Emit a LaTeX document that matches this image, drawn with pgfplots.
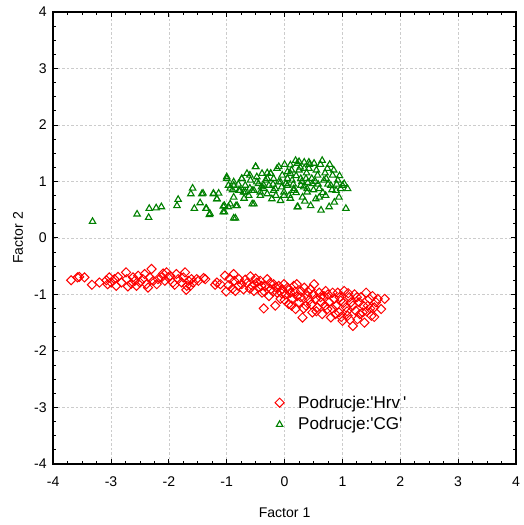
\documentclass[border=0pt]{standalone}
\usepackage{fontspec}
\setmainfont{Liberation Sans}
\usepackage{pgfplots}
\pgfplotsset{compat=1.18}
\definecolor{hrv}{RGB}{255,0,0}
\definecolor{cg}{RGB}{0,128,0}
\begin{document}
\begin{tikzpicture}
\begin{axis}[
  scale only axis,
  width=461pt, height=450pt,
  xmin=-4, xmax=4, ymin=-4, ymax=4,
  xtick={-4,-3,...,4}, ytick={-4,-3,...,4},
  minor tick num=3,
  tick pos=both, tick align=inside,
  major tick length=4.5pt, minor tick length=3pt,
  every tick/.style={black, line width=0.9pt},
  axis line style={line width=1.6pt},
  grid=major,
  major grid style={dash pattern=on 2.5pt off 2pt, gray!40, line width=0.6pt},
  /pgf/number format/assume math mode=true,
  ticklabel style={font=\fontsize{14}{16}\selectfont},
  xticklabel style={yshift=-9pt},
  yticklabel style={xshift=-3pt},
  xlabel={Factor 1}, ylabel={Factor 2},
  label style={font=\fontsize{14}{16}\selectfont},
  xlabel style={at={(axis description cs:0.5,0)}, anchor=center, yshift=-49pt},
  ylabel style={at={(axis description cs:0,0.5)}, anchor=center, yshift=35pt},
  legend style={draw=none, fill=none, at={(axis cs:-0.22,-2.72)}, anchor=north west,
    font=\fontsize{17}{20}\selectfont, row sep=4pt, column sep=12pt},
  legend cell align=left,
]
\addplot[only marks, mark=square, mark size=3.2pt, hrv, line width=1pt,
  every mark/.append style={rotate=45}] coordinates {
(-3.69,-0.75)(-3.58,-0.70)(-3.55,-0.69)(-3.46,-0.70)(-3.33,-0.83)(-3.20,-0.79)(-3.08,-0.75)(-3.06,-0.82)(-3.03,-0.70)(-3.00,-0.79)(-2.94,-0.73)(-2.91,-0.85)(-2.88,-0.69)(-2.82,-0.79)(-2.74,-0.61)(-2.73,-0.73)(-2.71,-0.86)(-2.65,-0.81)(-2.62,-0.70)(-2.59,-0.76)(-2.56,-0.85)(-2.53,-0.67)(-2.50,-0.79)(-2.45,-0.73)(-2.42,-0.64)(-2.39,-0.82)(-2.36,-0.88)(-2.33,-0.70)(-2.30,-0.55)(-2.27,-0.76)(-2.21,-0.82)(-2.19,-0.73)(-2.13,-0.70)(-2.10,-0.63)(-2.07,-0.76)(-2.04,-0.61)(-2.01,-0.70)(-1.98,-0.67)(-1.93,-0.79)(-1.90,-0.83)(-1.87,-0.64)(-1.84,-0.73)(-1.78,-0.79)(-1.75,-0.70)(-1.72,-0.61)(-1.70,-0.92)(-1.69,-0.85)(-1.66,-0.76)(-1.63,-0.85)(-1.61,-0.73)(-1.58,-0.79)(-1.52,-0.73)(-1.49,-0.76)(-1.40,-0.71)(-1.37,-0.73)(-1.20,-0.83)
(-1.17,-0.79)(-1.11,-0.82)(-1.03,-0.67)(-1.01,-0.95)(-0.97,-0.84)(-0.88,-0.64)(-0.87,-0.76)(-0.85,-0.94)(-0.79,-0.73)(-0.74,-0.82)(-0.71,-0.91)(-0.68,-0.74)(-0.59,-0.68)(-0.56,-0.85)(-0.53,-0.94)(-0.48,-0.79)(-0.45,-0.88)(-0.42,-0.76)(-0.39,-0.97)(-0.36,-1.25)(-0.33,-0.85)(-0.30,-0.73)(-0.27,-1.03)(-0.24,-0.91)(-0.19,-0.82)(-0.16,-1.20)(-0.13,-0.97)(-0.10,-0.85)(-0.07,-1.08)(-0.04,-0.91)(-0.01,-0.82)(0.02,-1.00)(0.05,-0.88)(0.07,-1.17)(0.10,-0.97)(0.13,-1.08)(0.16,-0.85)(0.19,-1.26)(0.21,-0.82)(0.22,-1.03)(0.25,-1.14)(0.28,-0.94)(0.31,-1.41)(0.34,-0.88)(0.37,-1.20)(0.39,-1.03)(0.42,-1.11)(0.45,-0.91)(0.48,-1.32)(0.51,-0.82)(0.54,-1.08)(0.57,-1.23)(0.60,-0.97)(0.63,-1.14)(0.65,-1.35)(0.68,-1.03)(0.71,-0.94)(0.74,-1.26)(0.77,-1.14)(0.80,-1.41)(0.83,-0.97)(0.86,-1.08)(0.89,-1.20)(0.92,-0.97)(0.94,-1.32)(0.97,-1.11)(1.00,-1.47)(1.03,-0.94)(1.06,-1.23)(1.09,-1.38)(1.12,-1.05)(1.15,-1.14)(1.18,-1.56)(1.21,-1.00)(1.23,-1.29)(1.26,-1.44)(1.29,-1.14)(1.32,-1.05)(1.35,-1.32)(1.38,-1.50)(1.41,-0.97)(1.44,-1.20)(1.47,-1.08)(1.50,-1.38)(1.52,-1.03)(1.55,-1.23)(1.58,-1.14)(1.61,-1.08)(1.67,-1.26)(1.73,-1.08)
(-0.95,-0.72)(-0.90,-0.90)(-0.80,-0.85)(-0.65,-0.80)(-0.60,-0.90)(-0.50,-0.72)(-0.40,-0.85)(-0.35,-0.95)(-0.25,-0.80)(-0.20,-0.95)(-0.15,-0.88)(-0.05,-0.98)(0.00,-1.10)(0.08,-0.92)(0.12,-1.20)(0.18,-0.95)(0.28,-1.05)(0.33,-1.25)(0.40,-0.95)(0.46,-1.18)(0.50,-1.00)(0.55,-1.30)(0.62,-1.05)(0.70,-1.20)(0.75,-1.00)(0.82,-1.25)(0.88,-1.35)(0.95,-1.05)(1.02,-1.15)(1.08,-1.30)(1.13,-1.45)(1.18,-1.20)(1.25,-1.05)(1.30,-1.35)(1.36,-1.20)(1.42,-1.30)(1.48,-1.25)(1.55,-1.40)(1.10,-0.98)(0.98,-1.40)
};
\addlegendentry{Podrucje:\textquotesingle Hrv\hspace{3pt}\textquotesingle}
\addplot[only marks, mark=triangle, mark size=3.7pt, cg, line width=1.1pt] coordinates {
(-3.32,0.29)(-2.55,0.42)(-2.35,0.36)(-2.34,0.52)(-2.22,0.53)(-2.13,0.55)(-1.84,0.68)(-1.86,0.57)(-1.59,0.88)(-1.62,0.78)(-1.56,0.52)(-1.46,0.62)(-1.41,0.79)(-1.36,0.52)(-1.30,0.41)(-1.23,0.79)(-1.17,0.69)(-1.14,0.79)(-1.06,0.56)(-1.04,0.46)(-1.00,1.05)(-0.97,0.55)(-0.94,0.88)(-0.88,0.93)(-0.88,0.35)(-0.84,0.57)(-0.77,0.84)(-0.74,1.05)(-0.68,0.81)(-0.60,1.11)(-0.56,0.84)(-0.53,0.60)(-0.50,1.26)(-0.48,0.99)(-0.42,0.81)(-0.36,0.93)(-0.30,1.05)(-0.24,1.14)(-0.19,0.84)(-0.10,1.26)(-0.07,0.99)(-0.01,0.75)(0.05,0.93)(0.10,1.14)(0.16,0.84)(0.22,1.32)(0.23,0.55)(0.28,1.05)(0.34,1.23)(0.39,0.87)(0.42,1.34)
(-1.43,0.78)(-1.35,0.52)(-1.29,0.43)(-1.23,0.78)(-1.17,0.69)(-1.06,0.46)(-1.04,0.57)(-1.00,1.08)(-0.97,0.93)(-0.94,0.60)(-0.88,0.99)(-0.88,0.72)(-0.85,0.35)(-0.82,0.57)(-0.79,0.84)(-0.74,1.05)(-0.71,0.81)(-0.68,0.93)(-0.65,1.14)(-0.62,0.75)(-0.59,1.02)(-0.56,0.60)(-0.53,0.84)(-0.50,1.26)(-0.48,1.08)(-0.45,0.96)(-0.42,0.75)(-0.39,1.14)(-0.36,0.87)(-0.33,1.02)(-0.30,0.78)(-0.27,0.93)(-0.24,1.14)(-0.22,0.69)(-0.19,1.05)(-0.16,0.87)(-0.13,1.23)(-0.10,0.99)(-0.07,0.66)(-0.04,1.11)(-0.01,0.81)(0.02,0.96)(0.05,1.17)(0.08,0.75)(0.10,1.29)(0.13,1.02)(0.16,0.87)(0.19,1.37)(0.22,0.55)(0.25,1.20)(0.28,0.93)(0.31,0.72)(0.34,1.34)(0.37,1.05)(0.39,0.81)(0.42,1.23)(0.45,0.57)(0.48,0.96)(0.51,1.32)(0.54,0.69)(0.57,1.11)(0.60,0.87)(0.63,0.49)(0.65,1.37)(0.68,1.02)(0.71,0.75)(0.74,1.23)(0.77,0.55)(0.80,0.93)(0.83,1.11)(0.86,0.63)(0.89,0.84)(0.92,1.02)(0.94,0.72)(0.97,0.87)(1.00,0.93)(1.03,0.96)(1.06,0.52)(1.09,0.87)
(0.00,1.30)(0.05,1.05)(0.12,1.20)(0.15,0.95)(0.20,1.10)(0.25,1.35)(0.30,1.00)(0.33,0.90)(0.38,1.15)(0.43,1.30)(0.47,1.05)(0.50,0.85)(0.55,1.20)(0.58,0.95)(0.62,1.30)(0.66,0.80)(0.70,1.15)(0.75,0.95)(0.78,1.30)(0.82,0.85)(0.85,1.20)(0.90,0.95)(0.95,1.10)(-0.20,0.95)(-0.30,1.15)(-0.40,0.90)(-0.60,0.88)(-0.70,0.70)(-0.80,0.95)(-0.90,0.85)(-0.15,0.75)(0.10,0.70)(0.35,0.65)(0.60,0.72)(0.40,0.98)(0.20,0.80)(-0.05,0.90)(0.27,1.25)(0.53,1.00)(0.72,1.05)
};
\addlegendentry{Podrucje:\textquotesingle CG\textquotesingle}
\end{axis}
\path ([shift={(-53pt,-61pt)}]current axis.south west) rectangle ([shift={(5pt,12pt)}]current axis.north east);
\end{tikzpicture}
\end{document}
